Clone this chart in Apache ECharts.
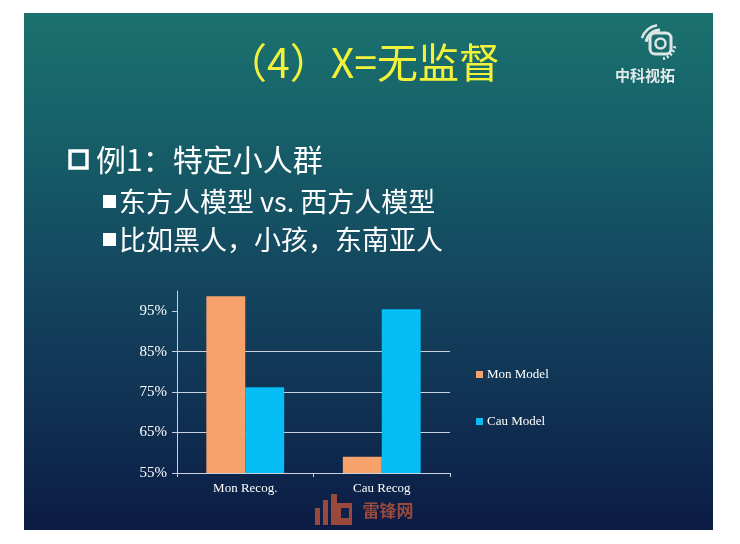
<!DOCTYPE html>
<html>
<head>
<meta charset="utf-8">
<script src="https://cdn.jsdelivr.net/npm/echarts@6/dist/echarts.min.js"></script>
<style>
html,body{margin:0;padding:0;background:#fff;}
#c{width:740px;height:544px;}
</style>
</head>
<body>
<div id="c"></div>
<script>
const categories = ['Mon Recog.', 'Cau Recog'];
const seriesNames = ['Mon Model', 'Cau Model'];
const monModel = [98.7, 59.0];
const cauModel = [76.2, 95.5];
const yTicks = [55, 65, 75, 85, 95];
const titleText = '（4）X=无监督';
const bullet1 = '例1：特定小人群';
const bullet2 = '东方人模型 vs. 西方人模型';
const bullet3 = '比如黑人，小孩，东南亚人';

const chart = echarts.init(document.getElementById('c'), null, {renderer: 'canvas'});
const lineCol = '#c9d2da';
const serif = '"Liberation Serif", "DejaVu Serif", serif';
const cjk = '"Noto Sans CJK SC", "Noto Sans", sans-serif';
const wm = 'rgba(170,78,58,0.9)';

const option = {
  animation: false,
  backgroundColor: {
    type: 'linear', x: 0, y: 0, x2: 0, y2: 1,
    colorStops: [
      {offset: 0.0, color: '#1b716e'},
      {offset: 0.024, color: '#1b716e'},
      {offset: 0.2, color: '#17646a'},
      {offset: 0.45, color: '#144c61'},
      {offset: 0.65, color: '#123a58'},
      {offset: 0.97, color: '#0c1c45'},
      {offset: 1.0, color: '#0c1c45'}
    ]
  },
  grid: {left: 177, right: 290, top: 291, bottom: 71, containLabel: false},
  legend: {
    orient: 'vertical', left: 471, top: 363, itemWidth: 7, itemHeight: 7, itemGap: 34,
    icon: 'rect', data: seriesNames,
    textStyle: {color: '#ffffff', fontFamily: serif, fontSize: 13, padding: [0, 0, 0, -1]}
  },
  xAxis: {
    type: 'category', data: categories,
    axisLine: {lineStyle: {color: lineCol, width: 1}},
    axisTick: {show: true, length: 4, lineStyle: {color: lineCol}},
    axisLabel: {color: '#ffffff', fontFamily: serif, fontSize: 13, margin: 9}
  },
  yAxis: {
    type: 'value', min: 55, max: 100, interval: 10,
    axisLine: {show: true, lineStyle: {color: lineCol, width: 1}},
    axisTick: {show: true, length: 5, customValues: yTicks, lineStyle: {color: lineCol}},
    axisLabel: {color: '#ffffff', fontFamily: serif, fontSize: 15, margin: 10, customValues: yTicks, formatter: '{value}%'},
    splitLine: {show: true, showMaxLine: false, lineStyle: {color: lineCol, width: 1}}
  },
  series: [
    {name: seriesNames[0], type: 'bar', data: monModel, barGap: '0%', barCategoryGap: '43%',
     itemStyle: {color: '#f8a26b'}},
    {name: seriesNames[1], type: 'bar', data: cauModel, barGap: '0%', barCategoryGap: '43%',
     itemStyle: {color: '#06bdf6'}}
  ],
  graphic: [
    // white margins around slide
    {type: 'rect', shape: {x: 0, y: 0, width: 740, height: 13}, style: {fill: '#ffffff'}, silent: true},
    {type: 'rect', shape: {x: 0, y: 530, width: 740, height: 14}, style: {fill: '#ffffff'}, silent: true},
    {type: 'rect', shape: {x: 0, y: 0, width: 24, height: 544}, style: {fill: '#ffffff'}, silent: true},
    {type: 'rect', shape: {x: 713, y: 0, width: 27, height: 544}, style: {fill: '#ffffff'}, silent: true},
    // title
    {type: 'text', x: 363, y: 62, style: {text: titleText, fill: '#f2f23a', font: '41px ' + cjk, align: 'center', verticalAlign: 'middle'}},
    // bullets
    {type: 'rect', shape: {x: 70, y: 151, width: 17, height: 17}, style: {fill: 'none', stroke: '#ffffff', lineWidth: 3.5}},
    {type: 'text', x: 96, y: 160, style: {text: bullet1, fill: '#ffffff', font: '30px ' + cjk, align: 'left', verticalAlign: 'middle'}},
    {type: 'rect', shape: {x: 103, y: 195, width: 13, height: 13}, style: {fill: '#ffffff'}},
    {type: 'text', x: 119, y: 202, style: {text: bullet2, fill: '#ffffff', font: '27px ' + cjk, align: 'left', verticalAlign: 'middle'}},
    {type: 'rect', shape: {x: 103, y: 233, width: 13, height: 13}, style: {fill: '#ffffff'}},
    {type: 'text', x: 119, y: 240, style: {text: bullet3, fill: '#ffffff', font: '27px ' + cjk, align: 'left', verticalAlign: 'middle'}},
    // logo icon
    {type: 'rect', shape: {x: 650, y: 33, width: 21, height: 21, r: 5}, style: {fill: 'none', stroke: '#dde6e6', lineWidth: 3}},
    {type: 'circle', shape: {cx: 660.5, cy: 43.5, r: 5}, style: {fill: 'none', stroke: '#dde6e6', lineWidth: 2.5}},
    {type: 'arc', shape: {cx: 660, cy: 44, r: 14, startAngle: Math.PI * 1.05, endAngle: Math.PI * 1.5}, style: {stroke: '#dde6e6', lineWidth: 3, fill: 'none'}},
    {type: 'arc', shape: {cx: 660, cy: 44, r: 19, startAngle: Math.PI * 1.1, endAngle: Math.PI * 1.45}, style: {stroke: '#dde6e6', lineWidth: 2.5, fill: 'none'}},
    {type: 'arc', shape: {cx: 660, cy: 44, r: 15, startAngle: Math.PI * 0.05, endAngle: Math.PI * 0.45}, style: {stroke: '#dde6e6', lineWidth: 3, fill: 'none', lineDash: [2, 2]}},
    {type: 'text', x: 645, y: 75, style: {text: '中科视拓', fill: '#e2eaea', font: 'bold 15px ' + cjk, align: 'center', verticalAlign: 'middle'}},
    // watermark
    {type: 'rect', shape: {x: 315, y: 508, width: 5, height: 17}, style: {fill: wm}},
    {type: 'rect', shape: {x: 323, y: 500, width: 5, height: 25}, style: {fill: wm}},
    {type: 'rect', shape: {x: 331, y: 494, width: 6, height: 31}, style: {fill: wm}},
    {type: 'rect', shape: {x: 337, y: 503, width: 15, height: 22}, style: {fill: wm}},
    {type: 'rect', shape: {x: 341, y: 508, width: 8, height: 10}, style: {fill: '#0e2148'}},
    {type: 'text', x: 388, y: 511, style: {text: '雷锋网', fill: wm, font: 'bold 17px ' + cjk, align: 'center', verticalAlign: 'middle'}}
  ]
};
chart.setOption(option);
</script>
</body>
</html>
